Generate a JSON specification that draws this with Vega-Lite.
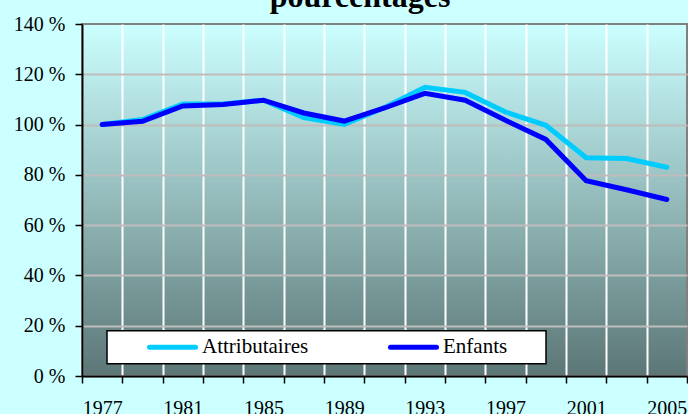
{
  "$schema": "https://vega.github.io/schema/vega-lite/v6.json",
  "autosize": {"type": "none"},
  "padding": {"left": 82, "top": 24, "right": 1, "bottom": 38},
  "width": 605,
  "height": 352,
  "background": "#ccffff",
  "title": {
    "text": "pourcentages",
    "font": "Liberation Serif",
    "fontSize": 32,
    "fontWeight": "bold",
    "color": "black",
    "anchor": "middle",
    "frame": "group",
    "dx": -24.5,
    "dy": 26.5,
    "baseline": "alphabetic",
    "offset": 2
  },
  "config": {
    "view": {
      "fill": {"gradient": "linear", "x1": 0, "y1": 0, "x2": 0, "y2": 1,
        "stops": [{"offset": 0, "color": "#ccffff"}, {"offset": 1, "color": "#5c7676"}]},
      "stroke": "#808080",
      "strokeWidth": 2
    },
    "axis": {
      "labelFont": "Liberation Serif",
      "labelFontSize": 20,
      "labelColor": "black",
      "tickColor": "black",
      "domainColor": "black",
      "tickSize": 7,
      "tickWidth": 1.5,
      "domainWidth": 2,
      "title": null
    }
  },
  "data": {
    "values": [
      {"year": "1977", "serie": "Attributaires", "value": 100},
      {"year": "1979", "serie": "Attributaires", "value": 102},
      {"year": "1981", "serie": "Attributaires", "value": 108.2},
      {"year": "1983", "serie": "Attributaires", "value": 108.2},
      {"year": "1985", "serie": "Attributaires", "value": 109.7},
      {"year": "1987", "serie": "Attributaires", "value": 102.8},
      {"year": "1989", "serie": "Attributaires", "value": 100.1},
      {"year": "1991", "serie": "Attributaires", "value": 106.8},
      {"year": "1993", "serie": "Attributaires", "value": 114.8},
      {"year": "1995", "serie": "Attributaires", "value": 112.8},
      {"year": "1997", "serie": "Attributaires", "value": 105},
      {"year": "1999", "serie": "Attributaires", "value": 99.7},
      {"year": "2001", "serie": "Attributaires", "value": 86.8},
      {"year": "2003", "serie": "Attributaires", "value": 86.5},
      {"year": "2005", "serie": "Attributaires", "value": 83},
      {"year": "1977", "serie": "Enfants", "value": 100},
      {"year": "1979", "serie": "Enfants", "value": 101.3},
      {"year": "1981", "serie": "Enfants", "value": 107.4},
      {"year": "1983", "serie": "Enfants", "value": 108},
      {"year": "1985", "serie": "Enfants", "value": 109.7},
      {"year": "1987", "serie": "Enfants", "value": 104.6},
      {"year": "1989", "serie": "Enfants", "value": 101.4},
      {"year": "1991", "serie": "Enfants", "value": 106.6},
      {"year": "1993", "serie": "Enfants", "value": 112.4},
      {"year": "1995", "serie": "Enfants", "value": 109.7},
      {"year": "1997", "serie": "Enfants", "value": 101.7},
      {"year": "1999", "serie": "Enfants", "value": 94.1},
      {"year": "2001", "serie": "Enfants", "value": 77.7},
      {"year": "2003", "serie": "Enfants", "value": 74.1},
      {"year": "2005", "serie": "Enfants", "value": 70.2}
    ]
  },
  "mark": {"type": "line", "strokeWidth": 5, "strokeCap": "round"},
  "encoding": {
    "x": {
      "field": "year",
      "type": "ordinal",
      "bandPosition": 0.5,
      "scale": {"type": "band", "paddingInner": 0, "paddingOuter": 0},
      "axis": {
        "labelAngle": 0,
        "tickBand": "extent",
        "labelPadding": 15,
        "grid": true,
        "gridColor": {"condition": {"test": "datum.value === '2005'", "value": "transparent"}, "value": "white"},
        "gridWidth": 2,
        "labelExpr": "(toNumber(datum.label) - 1977) % 4 == 0 ? datum.label : ''"
      }
    },
    "y": {
      "field": "value",
      "type": "quantitative",
      "scale": {"domain": [0, 140], "nice": false},
      "axis": {
        "values": [0, 20, 40, 60, 80, 100, 120, 140],
        "labelExpr": "datum.value + ' %'",
        "labelPadding": 10,
        "grid": true,
        "gridColor": {"condition": {"test": "datum.value === 140", "value": "transparent"}, "value": "#c0bcbc"},
        "gridWidth": 2
      }
    },
    "color": {
      "field": "serie",
      "type": "nominal",
      "scale": {"domain": ["Attributaires", "Enfants"], "range": ["#00ccff", "#0000ff"]},
      "legend": {
        "orient": "none",
        "legendX": 25,
        "legendY": 306.7,
        "direction": "horizontal",
        "fillColor": "white",
        "strokeColor": "black",
        "padding": 6,
        "symbolType": "stroke",
        "symbolSize": 2116,
        "symbolStrokeWidth": 5,
        "symbolOffset": 34,
        "labelOffset": 4,
        "columnPadding": 45,
        "clipHeight": 21,
        "labelFont": "Liberation Serif",
        "labelFontSize": 21,
        "labelColor": "black",
        "labelLimit": 0,
        "title": " ",
        "titleOrient": "right",
        "titlePadding": 33,
        "titleFontSize": 21,
        "encode": {
          "symbols": {"update": {"strokeCap": {"value": "round"}}},
          "legend": {"update": {"strokeWidth": {"value": 1.5}}}
        }
      }
    }
  }
}
